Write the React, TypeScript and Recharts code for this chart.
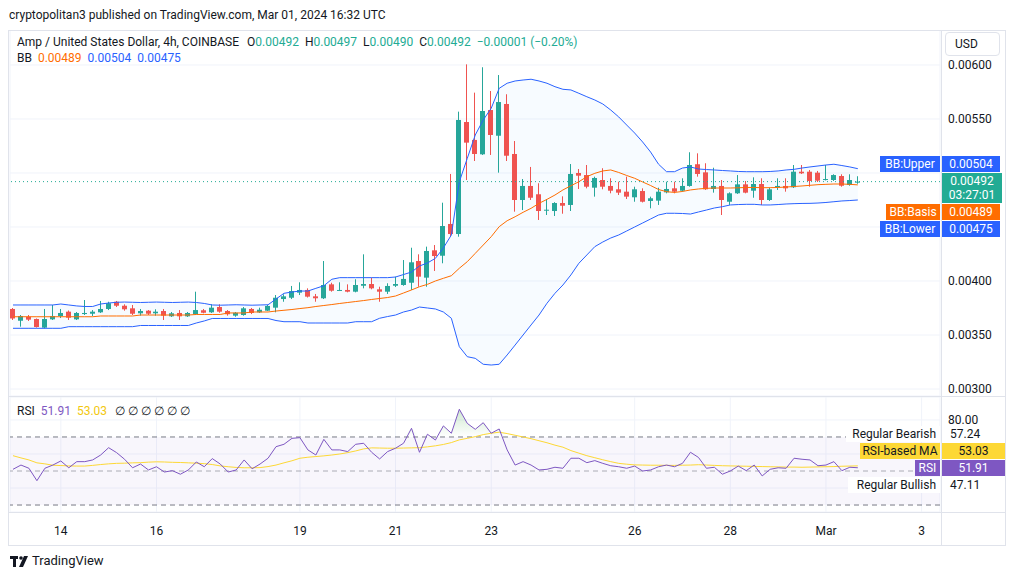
import React from 'react';
import {
  ComposedChart,
  Bar,
  Line,
  Area,
  XAxis,
  YAxis,
  CartesianGrid,
  ReferenceLine,
  ReferenceArea,
} from 'recharts';

const FONT = 'Roboto, "Noto Sans", Arial, sans-serif';
const UP = '#26a69a';
const DOWN = '#ef5350';
const BB_BLUE = '#2962ff';
const BB_ORANGE = '#ff6d00';
const RSI_PURPLE = '#7e57c2';
const RSI_YELLOW = '#fdd835';
const GRID = '#f0f3fa';
const TEXT = '#131722';
const BORDER = '#e0e3eb';

// 4h candles, Feb 13 00:00 -> Mar 1 16:00 (index = candle number)
const dayTicks = [6, 18, 36, 48, 60, 78, 90, 102, 114];
const dayLabels = ['14', '16', '19', '21', '23', '26', '28', 'Mar', '3'];
const priceTicks = [0.003, 0.0035, 0.004, 0.0045, 0.005, 0.0055, 0.006];
// labels hidden behind the BB / last price tags on the scale
const hiddenPriceLabels = [0.0045, 0.005];
const rsiTicks = [40, 60, 80];

const openP = [
  0.003741, 0.003632, 0.003669, 0.003648, 0.003568, 0.003645, 0.003676, 0.003716, 0.003645, 0.003694,
  0.003697, 0.00371, 0.003741, 0.003808, 0.003771, 0.003747, 0.003701, 0.003725, 0.003701, 0.003722,
  0.003673, 0.003704, 0.003673, 0.003692, 0.003729, 0.00371, 0.003759, 0.003722, 0.003679, 0.003685,
  0.003741, 0.00371, 0.003725, 0.003753, 0.003833, 0.003845, 0.003892, 0.003917, 0.003858, 0.00384,
  0.003969, 0.00391, 0.003917, 0.003901, 0.003956, 0.003972, 0.003923, 0.003901, 0.003956, 0.003963,
  0.003984, 0.004185, 0.004031, 0.004284, 0.004234, 0.004528, 0.004435, 0.005472, 0.005306, 0.005173,
  0.005583, 0.005345, 0.005639, 0.005176, 0.00475, 0.00488, 0.004803, 0.004651, 0.004648, 0.004722,
  0.004704, 0.005, 0.004981, 0.004864, 0.004935, 0.00488, 0.004849, 0.004827, 0.004775, 0.004833,
  0.004741, 0.004744, 0.004821, 0.004858, 0.004836, 0.00488, 0.005081, 0.005006, 0.004852, 0.00488,
  0.004734, 0.004812, 0.004895, 0.004836, 0.004898, 0.00475, 0.004868, 0.00488, 0.004868, 0.005012,
  0.005012, 0.005003, 0.004935, 0.004935, 0.004972, 0.004889, 0.00492,
];
const highP = [
  0.00375, 0.003685, 0.003685, 0.003653, 0.003741, 0.003778, 0.003741, 0.003727, 0.003713, 0.003824,
  0.003731, 0.003815, 0.003808, 0.003815, 0.003784, 0.003778, 0.003741, 0.003731, 0.003738, 0.003741,
  0.003713, 0.003731, 0.003713, 0.003901, 0.003741, 0.003784, 0.003784, 0.003731, 0.003713, 0.003759,
  0.00375, 0.003753, 0.003778, 0.00387, 0.003877, 0.003954, 0.003988, 0.003932, 0.00388, 0.004185,
  0.003984, 0.003988, 0.003969, 0.004016, 0.004247, 0.004031, 0.003947, 0.003979, 0.00404, 0.004194,
  0.004308, 0.004247, 0.004318, 0.004333, 0.004725, 0.004991, 0.005568, 0.006006, 0.005744, 0.005979,
  0.005759, 0.005907, 0.005729, 0.005296, 0.004944, 0.005056, 0.004905, 0.004759, 0.00473, 0.004784,
  0.005083, 0.005037, 0.005074, 0.004966, 0.005044, 0.004951, 0.004919, 0.004966, 0.004873, 0.004858,
  0.004781, 0.004864, 0.004919, 0.004919, 0.004951, 0.005192, 0.005182, 0.00509, 0.005049, 0.004935,
  0.004821, 0.004981, 0.004926, 0.00496, 0.004951, 0.004864, 0.004951, 0.004951, 0.005074, 0.005074,
  0.005028, 0.005019, 0.005074, 0.004988, 0.004988, 0.004988, 0.00497,
];
const lowP = [
  0.003639, 0.003577, 0.00363, 0.003569, 0.00356, 0.003639, 0.003657, 0.003639, 0.003639, 0.003685,
  0.003676, 0.003704, 0.003731, 0.003759, 0.003725, 0.003685, 0.003679, 0.003685, 0.003679, 0.003639,
  0.003667, 0.003639, 0.003667, 0.003685, 0.003701, 0.003704, 0.003706, 0.003679, 0.003669, 0.003679,
  0.003694, 0.003704, 0.003722, 0.00371, 0.003808, 0.003833, 0.00387, 0.003847, 0.003808, 0.003833,
  0.003901, 0.003907, 0.003895, 0.003895, 0.003932, 0.003923, 0.003808, 0.00388, 0.003944, 0.003956,
  0.003917, 0.003947, 0.003947, 0.004093, 0.004164, 0.00441, 0.00441, 0.004935, 0.005111, 0.005167,
  0.005167, 0.005003, 0.005111, 0.004642, 0.004657, 0.00475, 0.004565, 0.004611, 0.004602, 0.004623,
  0.004648, 0.004852, 0.004858, 0.004781, 0.004849, 0.004812, 0.004796, 0.004759, 0.004734, 0.004727,
  0.004673, 0.004704, 0.004812, 0.004812, 0.004827, 0.004873, 0.004966, 0.004843, 0.004818, 0.004611,
  0.004704, 0.004806, 0.004812, 0.004771, 0.004704, 0.004741, 0.004843, 0.004827, 0.004861, 0.004991,
  0.004873, 0.004917, 0.004931, 0.004926, 0.004873, 0.004882, 0.0049,
];
const closeP = [
  0.003653, 0.003676, 0.003642, 0.003574, 0.003648, 0.003676, 0.003704, 0.00366, 0.003704, 0.003704,
  0.003716, 0.003741, 0.003794, 0.003771, 0.003738, 0.003697, 0.003722, 0.003697, 0.003716, 0.003679,
  0.003701, 0.003673, 0.003704, 0.003731, 0.003706, 0.003753, 0.003716, 0.003692, 0.003706, 0.003747,
  0.003704, 0.003734, 0.003769, 0.003845, 0.003858, 0.003907, 0.003917, 0.003855, 0.00384, 0.003963,
  0.00391, 0.003917, 0.003901, 0.003963, 0.003972, 0.003932, 0.003901, 0.003954, 0.003972, 0.004019,
  0.004173, 0.00404, 0.004278, 0.004231, 0.004509, 0.004435, 0.005491, 0.005281, 0.005176, 0.005574,
  0.005352, 0.005657, 0.00516, 0.00475, 0.00488, 0.004771, 0.004648, 0.00466, 0.004722, 0.004697,
  0.004991, 0.004975, 0.004873, 0.004954, 0.004873, 0.004836, 0.004818, 0.004781, 0.004849, 0.004734,
  0.004766, 0.004827, 0.004852, 0.004827, 0.00488, 0.005074, 0.004991, 0.004849, 0.00488, 0.00475,
  0.004812, 0.004895, 0.004818, 0.004898, 0.00475, 0.004849, 0.00488, 0.004858, 0.005012, 0.004997,
  0.004926, 0.004929, 0.004944, 0.004981, 0.004882, 0.004935, 0.00492,
];

const bbUpper = [
  0.003778, 0.003778, 0.003778, 0.003778, 0.003778, 0.003778, 0.003787, 0.003778, 0.003769, 0.003764,
  0.003764, 0.003787, 0.003796, 0.003803, 0.003805, 0.003803, 0.003801, 0.003803, 0.003805, 0.003803,
  0.003801, 0.003803, 0.003805, 0.003801, 0.003792, 0.003778, 0.003776, 0.003778, 0.00378, 0.003778,
  0.003776, 0.003778, 0.00378, 0.003833, 0.003886, 0.003898, 0.003907, 0.003907, 0.003932, 0.003956,
  0.004016, 0.004031, 0.004031, 0.004031, 0.004031, 0.004031, 0.004031, 0.004031, 0.004037, 0.00406,
  0.004083, 0.004139, 0.004167, 0.00421, 0.004306, 0.004426, 0.004919, 0.005136, 0.005352, 0.005491,
  0.005599, 0.005784, 0.005831, 0.005852, 0.005861, 0.005868, 0.005852, 0.005831, 0.005799, 0.005775,
  0.005769, 0.005738, 0.005706, 0.005676, 0.005639, 0.005583, 0.005519, 0.005444, 0.00537, 0.005287,
  0.005194, 0.005081, 0.005012, 0.005012, 0.005046, 0.005056, 0.005037, 0.005032, 0.005028, 0.005023,
  0.005019, 0.005014, 0.005012, 0.005012, 0.005012, 0.005014, 0.005019, 0.005028, 0.005034, 0.005046,
  0.005056, 0.005065, 0.005074, 0.005081, 0.005069, 0.005056, 0.00504,
];
const bbBasis = [
  0.003669, 0.003669, 0.003669, 0.003669, 0.003669, 0.003669, 0.003669, 0.003669, 0.003669, 0.003669,
  0.003669, 0.003676, 0.003676, 0.003676, 0.003676, 0.003676, 0.003685, 0.003685, 0.003685, 0.003685,
  0.003685, 0.003685, 0.003685, 0.00369, 0.00369, 0.00369, 0.00369, 0.003704, 0.003704, 0.003704,
  0.003713, 0.003713, 0.003713, 0.003722, 0.003729, 0.003736, 0.003745, 0.003753, 0.003764, 0.003773,
  0.003782, 0.003792, 0.003801, 0.00381, 0.003819, 0.003829, 0.003838, 0.003847, 0.003861, 0.003889,
  0.003917, 0.003947, 0.003969, 0.004, 0.004025, 0.004049, 0.004118, 0.004179, 0.004256, 0.004333,
  0.00441, 0.004503, 0.004558, 0.004595, 0.004636, 0.004673, 0.004719, 0.004756, 0.004796, 0.004843,
  0.004882, 0.004919, 0.004966, 0.004997, 0.005019, 0.005028, 0.005005, 0.004977, 0.004951, 0.004917,
  0.004884, 0.004847, 0.004827, 0.00482, 0.004829, 0.004843, 0.004852, 0.004858, 0.004861, 0.004861,
  0.004861, 0.004863, 0.004866, 0.004866, 0.004864, 0.004864, 0.004866, 0.00487, 0.004875, 0.00488,
  0.004886, 0.004892, 0.004895, 0.004898, 0.004898, 0.004895, 0.00489,
];
const bbLower = [
  0.003562, 0.003562, 0.003562, 0.003562, 0.003562, 0.003562, 0.003562, 0.003577, 0.003577, 0.003577,
  0.003577, 0.003577, 0.003577, 0.003577, 0.003577, 0.003577, 0.003588, 0.003588, 0.003588, 0.003588,
  0.003588, 0.003588, 0.003588, 0.003611, 0.00363, 0.003653, 0.003653, 0.003653, 0.003653, 0.003653,
  0.003653, 0.003653, 0.003653, 0.003634, 0.003623, 0.003623, 0.003623, 0.003611, 0.003611, 0.003611,
  0.003611, 0.003611, 0.003611, 0.003623, 0.003623, 0.003623, 0.003655, 0.003671, 0.003685, 0.003713,
  0.003731, 0.003759, 0.00375, 0.003741, 0.003713, 0.003655, 0.003392, 0.003299, 0.003284, 0.003229,
  0.003222, 0.003229, 0.003315, 0.003407, 0.0035, 0.003593, 0.003685, 0.003794, 0.003886, 0.003963,
  0.004056, 0.004164, 0.004241, 0.004318, 0.004361, 0.004398, 0.004426, 0.004463, 0.0045, 0.004537,
  0.004574, 0.004611, 0.004627, 0.004627, 0.004625, 0.00462, 0.004639, 0.004657, 0.004676, 0.004688,
  0.004704, 0.004708, 0.00471, 0.00471, 0.004704, 0.004704, 0.004708, 0.004713, 0.004716, 0.004718,
  0.004719, 0.004722, 0.004727, 0.004734, 0.004741, 0.004745, 0.00475,
];

const rsiValues = [
  51.0, 53.5, 51.6, 44.3, 51.6, 53.5, 55.9, 51.9, 55.5, 55.5,
  56.5, 59.4, 63.7, 60.8, 56.9, 51.9, 54.1, 50.6, 52.5, 49.4,
  50.2, 48.1, 50.6, 55.3, 52.5, 57.3, 54.1, 49.4, 50.6, 56.5,
  51.3, 54.1, 57.5, 64.3, 65.7, 69.2, 69.6, 62.4, 59.4, 68.6,
  62.4, 62.4, 61.4, 65.7, 66.3, 61.0, 57.1, 61.4, 63.4, 66.3,
  75.1, 61.0, 71.6, 68.2, 76.5, 72.2, 86.3, 78.0, 74.5, 78.4,
  72.2, 74.7, 62.4, 53.5, 55.5, 53.5, 50.6, 51.0, 52.2, 51.6,
  57.5, 57.5, 54.9, 56.1, 54.5, 53.1, 52.5, 51.6, 52.9, 50.0,
  50.6, 52.5, 53.5, 52.5, 54.5, 61.0, 58.0, 51.6, 52.2, 48.1,
  50.0, 52.9, 50.2, 53.5, 47.1, 51.0, 51.9, 51.6, 57.5, 56.9,
  56.5, 53.1, 53.5, 55.5, 50.2, 52.2, 51.91,
];
const rsiMa = [
  59.0, 57.7, 56.5, 54.8, 54.2, 53.4, 53.2, 53.0, 52.9, 52.9,
  53.3, 53.8, 54.2, 54.5, 54.6, 54.8, 54.9, 55.2, 55.4, 55.3,
  55.1, 55.0, 54.8, 54.6, 54.3, 53.8, 53.0, 52.5, 52.1, 51.9,
  51.9, 52.0, 52.6, 53.5, 54.8, 56.0, 57.5, 58.1, 58.5, 58.9,
  59.4, 60.0, 60.8, 61.8, 63.0, 63.6, 63.5, 63.4, 63.4, 63.5,
  63.6, 63.7, 64.2, 64.8, 65.6, 66.7, 68.3, 69.2, 70.2, 71.4,
  72.2, 72.8, 72.0, 71.0, 70.0, 69.0, 67.8, 66.6, 65.2, 64.0,
  62.0, 60.5, 59.0, 57.8, 56.6, 55.5, 54.5, 54.0, 53.6, 53.5,
  53.4, 53.4, 53.3, 53.3, 53.4, 53.5, 53.7, 53.5, 53.3, 53.1,
  53.0, 52.9, 52.8, 52.7, 52.6, 52.5, 52.4, 52.3, 52.3, 52.2,
  52.3, 52.4, 52.5, 52.6, 52.8, 52.9, 53.03,
];

const X_DOMAIN: [number, number] = [-0.376, 116.31];

function Candle(props: any) {
  const { x, y, width, height, payload } = props;
  if (x == null || y == null || !payload) return <g />;
  const top = Math.min(y, y + height);
  const h = Math.abs(height);
  const span = payload.high - payload.low;
  const k = span > 0 ? h / span : 0;
  const up = payload.close >= payload.open;
  const color = up ? UP : DOWN;
  const bodyTop = top + (payload.high - Math.max(payload.open, payload.close)) * k;
  const bodyH = Math.max(1, Math.abs(payload.close - payload.open) * k);
  const cx = x + width / 2;
  const bx = Math.round(cx - 2.5);
  return (
    <g>
      <line x1={bx + 2.5} x2={bx + 2.5} y1={top} y2={top + h} stroke={color} strokeWidth={1} />
      <rect x={bx} y={bodyTop} width={5} height={bodyH} fill={color} />
    </g>
  );
}

function PriceTick(props: any) {
  const { x, y, payload } = props;
  if (!payload || hiddenPriceLabels.some((v) => Math.abs(v - payload.value) < 1e-9)) return <g />;
  return (
    <text x={x} y={y} dy={4} fontSize={12} fill={TEXT} fontFamily={FONT}>
      {payload.value.toFixed(5)}
    </text>
  );
}

function RsiTick(props: any) {
  const { x, y, payload } = props;
  if (!payload || payload.value !== 80) return <g />;
  return (
    <text x={x} y={y} dy={4} fontSize={12} fill={TEXT} fontFamily={FONT}>
      {payload.value.toFixed(2)}
    </text>
  );
}

const abs = (left: number, top: number, extra: React.CSSProperties = {}): React.CSSProperties => ({
  position: 'absolute',
  left,
  top,
  ...extra,
});

function Tag({ left, top, width, height = 16, bg, color = '#fff', align = 'center', children }: any) {
  return (
    <div
      style={abs(left, top, {
        width,
        height,
        background: bg,
        color,
        fontSize: 12,
        lineHeight: `${height}px`,
        textAlign: align,
        paddingRight: align === 'right' ? 4 : 0,
        boxSizing: 'border-box',
        whiteSpace: 'nowrap',
      })}
    >
      {children}
    </div>
  );
}

export default function App() {
  const candles = openP.map((o, i) => ({
    i,
    open: o,
    high: highP[i],
    low: lowP[i],
    close: closeP[i],
    range: [lowP[i], highP[i]],
    upper: bbUpper[i],
    basis: bbBasis[i],
    lower: bbLower[i],
    band: [bbLower[i], bbUpper[i]],
  }));
  const rsiData = rsiValues.map((v, i) => ({
    i,
    rsi: v,
    ma: rsiMa[i],
    ob: [70, Math.max(70, v)],
  }));
  const lastClose = closeP[closeP.length - 1];
  const teal = '#22ab94';

  return (
    <div
      style={{
        position: 'absolute',
        left: 0,
        top: 0,
        width: 1015,
        height: 579,
        background: '#fff',
        fontFamily: FONT,
        color: TEXT,
        overflow: 'hidden',
      }}
    >
      <div style={abs(9, 7, { fontSize: 12, lineHeight: '16px' })}>
        cryptopolitan3 published on TradingView.com, Mar 01, 2024 16:32 UTC
      </div>

      {/* price pane */}
      <div style={abs(0, 30)}>
        <ComposedChart width={1005} height={366} data={candles} margin={{ top: 0, right: 0, bottom: 0, left: 10 }}>
          <CartesianGrid stroke={GRID} />
          <XAxis
            type="number"
            dataKey="i"
            domain={X_DOMAIN}
            ticks={dayTicks}
            interval={0}
            allowDataOverflow
            height={0}
            tick={false}
            axisLine={false}
            tickLine={false}
          />
          <YAxis
            orientation="right"
            width={65}
            domain={[0.0029352, 0.006324]}
            ticks={priceTicks}
            interval={0}
            allowDataOverflow
            axisLine={false}
            tickLine={false}
            tick={(p: any) => <PriceTick {...p} />}
          />
          <Area
            dataKey="band"
            stroke="none"
            fill="rgba(33,150,243,0.06)"
            isAnimationActive={false}
            activeDot={false}
          />
          <Line dataKey="upper" stroke={BB_BLUE} strokeWidth={1} dot={false} isAnimationActive={false} />
          <Line dataKey="lower" stroke={BB_BLUE} strokeWidth={1} dot={false} isAnimationActive={false} />
          <Line dataKey="basis" stroke={BB_ORANGE} strokeWidth={1} dot={false} isAnimationActive={false} />
          <ReferenceLine y={lastClose} stroke={teal} strokeDasharray="1 3" />
          <Bar dataKey="range" barSize={5} shape={(p: any) => <Candle {...p} />} isAnimationActive={false} />
        </ComposedChart>
      </div>

      {/* RSI pane + time axis */}
      <div style={abs(0, 397)}>
        <ComposedChart width={1005} height={149} data={rsiData} margin={{ top: 0, right: 0, bottom: 0, left: 10 }}>
          <defs>
            <linearGradient id="obFill" x1="0" y1="0" x2="0" y2="1">
              <stop offset="0%" stopColor="rgb(76,175,80)" stopOpacity={0.45} />
              <stop offset="100%" stopColor="rgb(76,175,80)" stopOpacity={0} />
            </linearGradient>
          </defs>
          <CartesianGrid stroke={GRID} />
          <ReferenceArea y1={30} y2={70} fill="rgba(126,87,194,0.1)" stroke="none" />
          <XAxis
            type="number"
            dataKey="i"
            domain={X_DOMAIN}
            ticks={dayTicks}
            interval={0}
            allowDataOverflow
            height={34}
            axisLine={false}
            tickLine={false}
            tickMargin={8}
            tick={{ fontSize: 12, fill: TEXT, fontFamily: FONT }}
            tickFormatter={(v: number) => dayLabels[dayTicks.indexOf(v)] ?? ''}
          />
          <YAxis
            orientation="right"
            width={65}
            domain={[25.9, 93.5]}
            ticks={rsiTicks}
            interval={0}
            allowDataOverflow
            axisLine={false}
            tickLine={false}
            tick={(p: any) => <RsiTick {...p} />}
          />
          <ReferenceLine y={70} stroke="#787b86" strokeDasharray="5 4" />
          <ReferenceLine y={50} stroke="rgba(120,123,134,0.6)" strokeDasharray="5 4" />
          <ReferenceLine y={30} stroke="#787b86" strokeDasharray="5 4" />
          <Area dataKey="ob" stroke="none" fill="url(#obFill)" isAnimationActive={false} activeDot={false} />
          <Line dataKey="ma" stroke={RSI_YELLOW} strokeWidth={1} dot={false} isAnimationActive={false} />
          <Line dataKey="rsi" stroke={RSI_PURPLE} strokeWidth={1} dot={false} isAnimationActive={false} />
        </ComposedChart>
      </div>

      {/* frame lines */}
      <div style={abs(8, 30, { width: 998, height: 516, border: `1px solid ${BORDER}`, boxSizing: 'border-box' })} />
      <div style={abs(941, 30, { width: 1, height: 516, background: BORDER })} />
      <div style={abs(8, 396, { width: 998, height: 1, background: BORDER })} />
      <div style={abs(8, 512, { width: 998, height: 1, background: BORDER })} />

      {/* legends */}
      <div style={abs(17, 34, { fontSize: 12, lineHeight: '16px', whiteSpace: 'nowrap' })}>
        Amp / United States Dollar, 4h, COINBASE
        <span style={{ marginLeft: 8 }}>O</span>
        <span style={{ color: teal }}>0.00492</span>
        <span style={{ marginLeft: 6 }}>H</span>
        <span style={{ color: teal }}>0.00497</span>
        <span style={{ marginLeft: 6 }}>L</span>
        <span style={{ color: teal }}>0.00490</span>
        <span style={{ marginLeft: 6 }}>C</span>
        <span style={{ color: teal }}>0.00492</span>
        <span style={{ marginLeft: 6, color: teal }}>−0.00001 (−0.20%)</span>
      </div>
      <div style={abs(17, 50, { fontSize: 12, lineHeight: '16px', whiteSpace: 'nowrap' })}>
        BB
        <span style={{ marginLeft: 6, color: BB_ORANGE }}>0.00489</span>
        <span style={{ marginLeft: 6, color: BB_BLUE }}>0.00504</span>
        <span style={{ marginLeft: 6, color: BB_BLUE }}>0.00475</span>
      </div>
      <div style={abs(17, 403, { fontSize: 12, lineHeight: '16px', whiteSpace: 'nowrap' })}>
        RSI
        <span style={{ marginLeft: 6, color: RSI_PURPLE }}>51.91</span>
        <span style={{ marginLeft: 6, color: '#f2c80f' }}>53.03</span>
        <span style={{ marginLeft: 8 }}>∅ ∅ ∅ ∅ ∅ ∅</span>
      </div>

      {/* price scale labels */}
      <div
        style={abs(945, 32, {
          width: 55,
          height: 24,
          border: `1px solid ${BORDER}`,
          borderRadius: 4,
          background: '#fff',
          boxSizing: 'border-box',
          fontSize: 12,
          lineHeight: '22px',
          paddingLeft: 9,
        })}
      >
        USD
      </div>
      <Tag left={880} top={156} width={60} bg={BB_BLUE}>BB:Upper</Tag>
      <Tag left={942} top={156} width={58} bg={BB_BLUE}>0.00504</Tag>
      <div
        style={abs(942, 173, {
          width: 60,
          height: 30,
          background: teal,
          color: '#fff',
          fontSize: 12,
          lineHeight: '14px',
          textAlign: 'center',
          paddingTop: 1,
          boxSizing: 'border-box',
        })}
      >
        0.00492
        <br />
        03:27:01
      </div>
      <Tag left={886} top={204} width={54} bg={BB_ORANGE}>BB:Basis</Tag>
      <Tag left={942} top={204} width={58} bg={BB_ORANGE}>0.00489</Tag>
      <Tag left={880} top={221} width={60} bg={BB_BLUE}>BB:Lower</Tag>
      <Tag left={942} top={221} width={58} bg={BB_BLUE}>0.00475</Tag>

      {/* RSI scale labels */}
      <Tag left={846} top={426} width={94} bg="#fff" color={TEXT} align="right">Regular Bearish</Tag>
      <div style={abs(950, 426, { fontSize: 12, lineHeight: '16px' })}>57.24</div>
      <Tag left={860} top={443} width={80} bg={RSI_YELLOW} color={TEXT}>RSI-based MA</Tag>
      <Tag left={942} top={443} width={63} bg={RSI_YELLOW} color={TEXT}>53.03</Tag>
      <Tag left={915} top={460} width={25} bg={RSI_PURPLE}>RSI</Tag>
      <Tag left={942} top={460} width={63} bg={RSI_PURPLE}>51.91</Tag>
      <Tag left={848} top={477} width={92} bg="#fff" color={TEXT} align="right">Regular Bullish</Tag>
      <div style={abs(950, 477, { fontSize: 12, lineHeight: '16px' })}>47.11</div>

      {/* footer */}
      <svg style={abs(10, 555)} width={20} height={13} viewBox="0 0 20 13">
        <rect x={0} y={1} width={8} height={3} fill={TEXT} />
        <rect x={3} y={1} width={3} height={11} fill={TEXT} />
        <circle cx={11} cy={3} r={1.8} fill={TEXT} />
        <polygon points="14,1 18,1 13,12 9,12" fill={TEXT} />
      </svg>
      <div style={abs(32, 553, { fontSize: 13, lineHeight: '16px' })}>TradingView</div>
    </div>
  );
}
